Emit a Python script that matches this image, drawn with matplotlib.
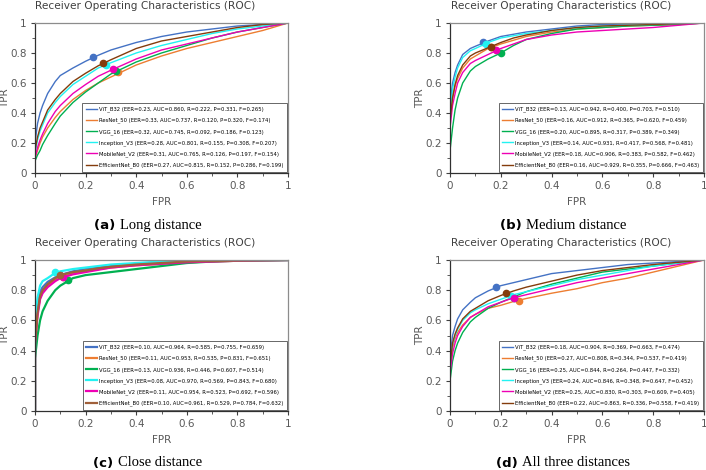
import numpy as np
import matplotlib
matplotlib.use("Agg")
import matplotlib.pyplot as plt
from matplotlib.ticker import MultipleLocator, FuncFormatter

# Model names and colours (Excel style)
models = ["ViT_B32", "ResNet_50", "VGG_16", "Inception_V3", "MobileNet_V2", "EfficientNet_B0"]
colors = ["#4472C4", "#ED7D31", "#00B050", "#22F2F2", "#EE00B4", "#843C0C"]

# Shared FPR sampling used when reading curves off the picture
fpr = [0, 0, 0.01, 0.02, 0.03, 0.05, 0.08, 0.1, 0.15, 0.2, 0.25, 0.3, 0.4, 0.5, 0.6, 0.7, 0.8, 0.9, 1.0]

# (a) Long distance
long_tpr = [
    [0, 0.20, 0.33, 0.40, 0.45, 0.53, 0.61, 0.65, 0.70, 0.745, 0.785, 0.82, 0.87, 0.91, 0.94, 0.96, 0.98, 0.99, 1],
    [0, 0.10, 0.15, 0.20, 0.24, 0.30, 0.37, 0.41, 0.49, 0.55, 0.60, 0.64, 0.72, 0.78, 0.83, 0.87, 0.91, 0.95, 1],
    [0, 0.08, 0.12, 0.15, 0.19, 0.25, 0.33, 0.38, 0.47, 0.54, 0.60, 0.66, 0.74, 0.80, 0.85, 0.90, 0.94, 0.97, 1],
    [0, 0.13, 0.22, 0.28, 0.32, 0.40, 0.47, 0.51, 0.59, 0.645, 0.70, 0.735, 0.80, 0.85, 0.89, 0.93, 0.96, 0.98, 1],
    [0, 0.10, 0.17, 0.22, 0.26, 0.33, 0.41, 0.45, 0.53, 0.59, 0.645, 0.685, 0.76, 0.82, 0.86, 0.90, 0.94, 0.97, 1],
    [0, 0.15, 0.24, 0.30, 0.34, 0.42, 0.49, 0.53, 0.61, 0.665, 0.715, 0.755, 0.83, 0.88, 0.91, 0.94, 0.97, 0.99, 1],
]
long_eer = [0.23, 0.33, 0.32, 0.28, 0.31, 0.27]
long_auc = [0.860, 0.737, 0.745, 0.801, 0.765, 0.815]
long_r = [0.222, 0.120, 0.092, 0.155, 0.126, 0.152]
long_p = [0.331, 0.320, 0.186, 0.308, 0.197, 0.286]
long_f = [0.265, 0.174, 0.123, 0.207, 0.154, 0.199]

# (b) Medium distance
med_tpr = [
    [0, 0.45, 0.60, 0.67, 0.72, 0.79, 0.83, 0.845, 0.88, 0.91, 0.925, 0.94, 0.96, 0.98, 0.99, 0.993, 0.996, 0.998, 1],
    [0, 0.35, 0.50, 0.58, 0.63, 0.70, 0.76, 0.78, 0.83, 0.86, 0.885, 0.91, 0.94, 0.96, 0.97, 0.98, 0.985, 0.99, 1],
    [0, 0.15, 0.30, 0.42, 0.50, 0.60, 0.68, 0.71, 0.76, 0.80, 0.85, 0.89, 0.93, 0.96, 0.97, 0.98, 0.985, 0.99, 1],
    [0, 0.40, 0.56, 0.64, 0.70, 0.77, 0.815, 0.83, 0.87, 0.90, 0.915, 0.93, 0.95, 0.97, 0.98, 0.985, 0.99, 0.995, 1],
    [0, 0.30, 0.45, 0.53, 0.60, 0.67, 0.73, 0.75, 0.79, 0.83, 0.86, 0.89, 0.92, 0.94, 0.95, 0.96, 0.97, 0.985, 1],
    [0, 0.35, 0.50, 0.59, 0.65, 0.72, 0.78, 0.80, 0.835, 0.87, 0.90, 0.92, 0.95, 0.97, 0.98, 0.985, 0.99, 0.995, 1],
]
med_eer = [0.13, 0.16, 0.20, 0.14, 0.18, 0.16]
med_auc = [0.942, 0.912, 0.895, 0.931, 0.906, 0.929]
med_r = [0.400, 0.365, 0.317, 0.417, 0.383, 0.355]
med_p = [0.703, 0.620, 0.389, 0.568, 0.582, 0.666]
med_f = [0.510, 0.459, 0.349, 0.481, 0.462, 0.463]

# (c) Close distance
close_tpr = [
    [0, 0.50, 0.70, 0.79, 0.82, 0.855, 0.885, 0.90, 0.925, 0.94, 0.95, 0.96, 0.975, 0.985, 0.99, 0.993, 0.996, 0.998, 1],
    [0, 0.45, 0.65, 0.75, 0.79, 0.83, 0.87, 0.885, 0.91, 0.93, 0.94, 0.95, 0.965, 0.975, 0.985, 0.99, 0.995, 0.998, 1],
    [0, 0.35, 0.50, 0.60, 0.66, 0.73, 0.80, 0.83, 0.88, 0.90, 0.91, 0.92, 0.94, 0.96, 0.98, 0.99, 0.995, 0.998, 1],
    [0, 0.60, 0.75, 0.83, 0.86, 0.88, 0.915, 0.925, 0.94, 0.95, 0.96, 0.97, 0.98, 0.99, 0.995, 0.997, 0.998, 0.999, 1],
    [0, 0.45, 0.63, 0.74, 0.78, 0.82, 0.86, 0.88, 0.905, 0.92, 0.935, 0.95, 0.965, 0.975, 0.985, 0.99, 0.995, 0.998, 1],
    [0, 0.45, 0.65, 0.76, 0.80, 0.84, 0.88, 0.90, 0.92, 0.93, 0.945, 0.955, 0.97, 0.98, 0.99, 0.993, 0.996, 0.998, 1],
]
close_eer = [0.10, 0.11, 0.13, 0.08, 0.11, 0.10]
close_auc = [0.964, 0.953, 0.936, 0.970, 0.954, 0.961]
close_r = [0.585, 0.535, 0.446, 0.569, 0.523, 0.529]
close_p = [0.755, 0.831, 0.607, 0.843, 0.692, 0.784]
close_f = [0.659, 0.651, 0.514, 0.680, 0.596, 0.632]

# (d) All three distances
all_tpr = [
    [0, 0.35, 0.50, 0.56, 0.61, 0.67, 0.72, 0.75, 0.795, 0.83, 0.85, 0.87, 0.91, 0.93, 0.95, 0.97, 0.98, 0.99, 1],
    [0, 0.28, 0.42, 0.48, 0.52, 0.57, 0.62, 0.64, 0.68, 0.70, 0.725, 0.745, 0.78, 0.81, 0.85, 0.88, 0.92, 0.96, 1],
    [0, 0.20, 0.33, 0.40, 0.45, 0.52, 0.59, 0.62, 0.68, 0.72, 0.755, 0.79, 0.84, 0.88, 0.92, 0.94, 0.96, 0.98, 1],
    [0, 0.30, 0.44, 0.50, 0.54, 0.60, 0.65, 0.67, 0.71, 0.74, 0.77, 0.79, 0.83, 0.87, 0.90, 0.93, 0.96, 0.98, 1],
    [0, 0.25, 0.38, 0.45, 0.50, 0.56, 0.62, 0.64, 0.69, 0.72, 0.75, 0.77, 0.81, 0.85, 0.88, 0.91, 0.94, 0.97, 1],
    [0, 0.30, 0.45, 0.51, 0.55, 0.61, 0.66, 0.68, 0.73, 0.765, 0.795, 0.82, 0.86, 0.90, 0.93, 0.95, 0.97, 0.985, 1],
]
all_eer = [0.18, 0.27, 0.25, 0.24, 0.25, 0.22]
all_auc = [0.904, 0.808, 0.844, 0.846, 0.830, 0.863]
all_r = [0.369, 0.344, 0.264, 0.348, 0.303, 0.336]
all_p = [0.663, 0.537, 0.447, 0.647, 0.609, 0.558]
all_f = [0.474, 0.419, 0.332, 0.452, 0.405, 0.419]

W, H = 706, 470
fig = plt.figure(figsize=(W / 100, H / 100), dpi=100)

# axes boxes in pixels: left, top, right, bottom
boxes = [(35, 23, 288, 173), (450, 23, 704, 173), (35, 260, 288, 411), (450, 260, 704, 411)]
panels = [
    (long_tpr, long_eer, long_auc, long_r, long_p, long_f, "(a)", "Long distance"),
    (med_tpr, med_eer, med_auc, med_r, med_p, med_f, "(b)", "Medium distance"),
    (close_tpr, close_eer, close_auc, close_r, close_p, close_f, "(c)", "Close distance"),
    (all_tpr, all_eer, all_auc, all_r, all_p, all_f, "(d)", "All three distances"),
]

fig.canvas.draw()
renderer = fig.canvas.get_renderer()

for k, (box, panel) in enumerate(zip(boxes, panels)):
    tprs, eer, auc, r, p, f, tag, caption = panel
    x0, y0, x1, y1 = box
    ax = fig.add_axes([x0 / W, 1 - y1 / H, (x1 - x0) / W, (y1 - y0) / H])
    lw = 1.6 if k == 2 else 1.0
    for i, name in enumerate(models):
        col = colors[i]
        if k == 2 and i == 5:
            col = "#A0603A"
        lab = "%s (EER=%.2f, AUC=%.3f, R=%.3f, P=%.3f, F=%.3f)" % (name, eer[i], auc[i], r[i], p[i], f[i])
        ax.plot(fpr, tprs[i], color=col, lw=lw, label=lab)
        ax.plot(eer[i], 1 - eer[i], "o", color=col, ms=4.5)
    ax.set_xlim(0, 1)
    ax.set_ylim(0, 1)
    ax.xaxis.set_major_locator(MultipleLocator(0.2))
    ax.xaxis.set_minor_locator(MultipleLocator(0.1))
    ax.yaxis.set_major_locator(MultipleLocator(0.2))
    ax.yaxis.set_minor_locator(MultipleLocator(0.1))
    fmt = FuncFormatter(lambda v, pos: "%g" % round(v, 2))
    ax.xaxis.set_major_formatter(fmt)
    ax.yaxis.set_major_formatter(fmt)
    ax.tick_params(which="major", length=3, width=0.8, color="#404040", labelsize=7.5,
                   labelcolor="#595959", pad=3)
    ax.tick_params(which="minor", length=2, width=0.6, color="#404040")
    for s in ["left", "bottom"]:
        ax.spines[s].set_color("#303030")
        ax.spines[s].set_linewidth(0.9)
    for s in ["top", "right"]:
        ax.spines[s].set_color("#8C8C8C")
        ax.spines[s].set_linewidth(0.9)
    leg = ax.legend(loc="lower right", fontsize=3.8, frameon=True, fancybox=False,
                    borderaxespad=0.2, handlelength=2.0, labelspacing=1.05,
                    borderpad=0.7, handletextpad=0.4)
    leg.get_frame().set_edgecolor("#404040")
    leg.get_frame().set_linewidth(0.7)

    cx = (x0 + x1) / 2
    fig.text((cx - 16) / W, 1 - (y0 - 17) / H, "Receiver Operating Characteristics (ROC)",
             ha="center", va="center", fontsize=7.6, color="#404040")
    fig.text((x0 - 30) / W, 1 - ((y0 + y1) / 2) / H, "TPR", rotation=90,
             ha="center", va="center", fontsize=7.5, color="#595959")
    fig.text(cx / W, 1 - (y1 + 29) / H, "FPR", ha="center", va="center",
             fontsize=7.5, color="#595959")

    # caption: bold sans tag followed by serif text
    cap_y = 1 - (y1 + 52) / H
    t_tag = fig.text(0, cap_y, tag + " ", fontsize=9.5, fontweight="bold",
                     family="DejaVu Sans", va="center")
    t_cap = fig.text(0, cap_y, caption, fontsize=10.5, family="Liberation Serif", va="center")
    w_tag = t_tag.get_window_extent(renderer).width
    w_cap = t_cap.get_window_extent(renderer).width
    start = cx - 14 - (w_tag + w_cap) / 2
    t_tag.set_x(start / W)
    t_cap.set_x((start + w_tag) / W)

fig.savefig("out.png", dpi=100)
